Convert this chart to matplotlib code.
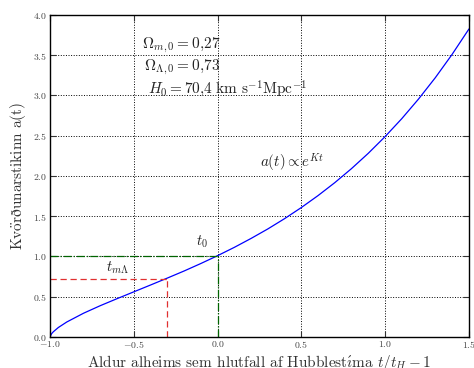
import matplotlib
matplotlib.use("Agg")
import matplotlib.pyplot as plt

plt.rcParams.update({
    'font.family': ['cmr10', 'DejaVu Serif'],
    'mathtext.fontset': 'cm',
    'axes.formatter.use_mathtext': True,
    'axes.unicode_minus': True,
})

# Data
t_rel = [-1.0, -0.99, -0.98, -0.95, -0.9, -0.8, -0.7, -0.6, -0.5, -0.4, -0.3, -0.2, -0.1,
         0.0, 0.1, 0.2, 0.3, 0.4, 0.5, 0.6, 0.7, 0.8, 0.9, 1.0, 1.1, 1.2, 1.3, 1.4, 1.5]
a_t = [0.0, 0.039, 0.062, 0.115, 0.183, 0.292, 0.386, 0.473, 0.558, 0.643, 0.729, 0.817, 0.910,
       1.0075, 1.111, 1.222, 1.340, 1.468, 1.606, 1.755, 1.916, 2.091, 2.281, 2.488, 2.712,
       2.956, 3.221, 3.510, 3.824]
t_mL = -0.30
a_mL = 0.72
t_now = 0.0
a_now = 1.0
xticks = [-1.0, -0.5, 0.0, 0.5, 1.0, 1.5]
yticks = [0.0, 0.5, 1.0, 1.5, 2.0, 2.5, 3.0, 3.5, 4.0]

fig = plt.figure(figsize=(4.74, 3.68), dpi=100)
ax = fig.add_axes([0.1055, 0.085, 0.8835, 0.874])

ax.plot(t_rel, a_t, color='blue', lw=0.9)
ax.plot([-1.0, t_mL], [a_mL, a_mL], color='#e03030', ls=(0, (5, 3)), lw=0.9)
ax.plot([t_mL, t_mL], [0, a_mL], color='#e03030', ls=(0, (5, 3)), lw=0.9)
ax.plot([-1.0, t_now], [a_now, a_now], color='#006400', ls='-.', lw=0.9)
ax.plot([t_now, t_now], [0, a_now], color='#006400', ls='-.', lw=0.9)

ax.set_xlim(-1.0, 1.5)
ax.set_ylim(0.0, 4.0)
ax.set_xticks(xticks)
ax.set_yticks(yticks)
ax.grid(True, color='black', ls=':', lw=0.7)
ax.tick_params(direction='in', top=True, right=True, labelsize=7, length=4, pad=2,
               colors='#333333', labelcolor='#444444')
for s in ax.spines.values():
    s.set_linewidth(1.0)

ax.set_xlabel(r'Aldur alheims sem hlutfall af Hubblest$\mathrm{\acute{\imath}}$ma $t/t_H-1$',
              fontsize=11, color='#333333', labelpad=2)
ax.set_ylabel(r'Kv$\mathrm{\ddot{o}}$r$\mathrm{\eth}$unarstikinn a(t)', fontsize=11,
              color='#333333', labelpad=4)

ax.text(-0.09, 1.08, r'$t_0$', fontsize=10.5, ha='center', va='bottom', color='#222222')
ax.text(-0.60, 0.76, r'$t_{m\Lambda}$', fontsize=10.5, ha='center', va='bottom', color='#222222')
ax.text(0.255, 2.16, r'$a(t)\propto e^{Kt}$', fontsize=10.8, ha='left', va='center', color='#222222')
ax.text(-0.45, 3.62, r'$\Omega_{m,0}=0{,}27$', fontsize=11, ha='left', va='center', color='#222222')
ax.text(-0.44, 3.35, r'$\Omega_{\Lambda,0}=0{,}73$', fontsize=11, ha='left', va='center', color='#222222')
ax.text(-0.415, 3.08, r'$H_0=70{,}4\ \mathrm{km\ s^{-1}Mpc^{-1}}$', fontsize=11, ha='left',
        va='center', color='#222222')

fig.savefig('out.png', dpi=100)
